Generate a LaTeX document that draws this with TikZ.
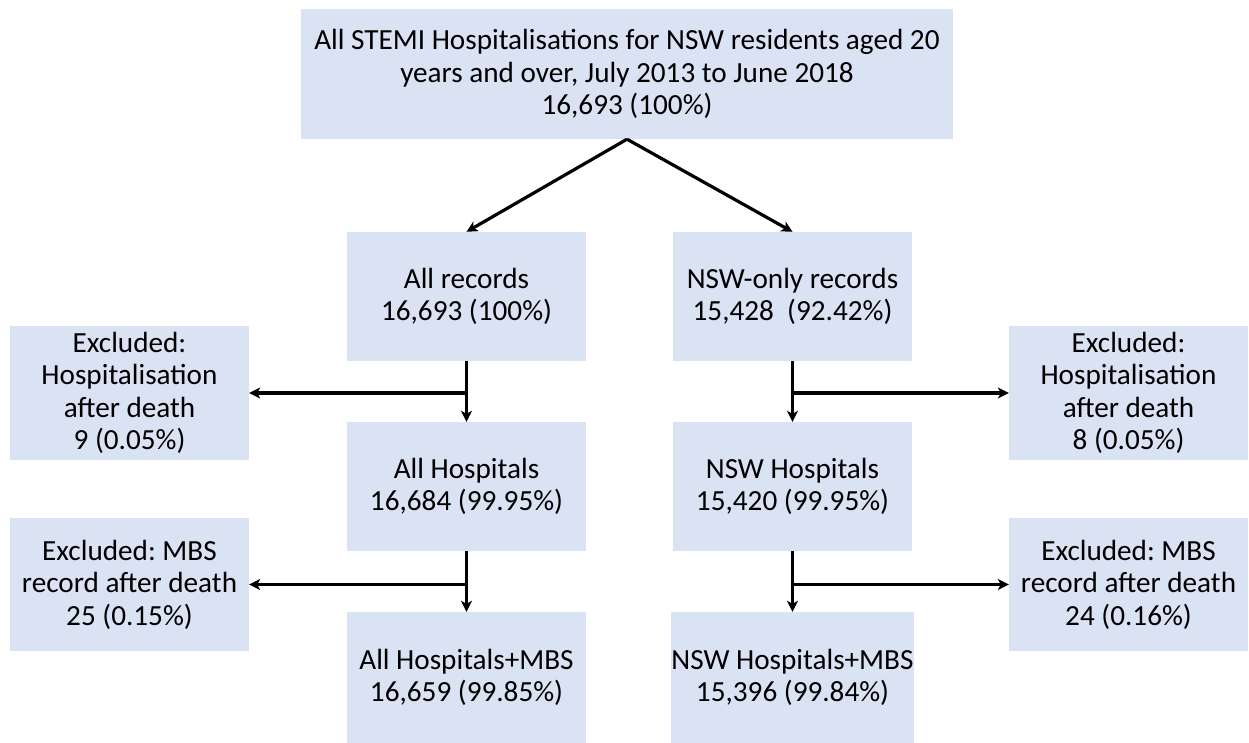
\documentclass[tikz,border=0pt]{standalone}
\usepackage{fontspec}
\setmainfont{Carlito}
\frenchspacing
\usetikzlibrary{arrows.meta}
\definecolor{boxfill}{HTML}{DAE3F3}
\begin{document}
\begin{tikzpicture}[x=1pt,y=-1pt,
  box/.style={fill=boxfill,draw=none,inner sep=0pt,align=center,
    font=\fontsize{29.2}{32.5}\selectfont\frenchspacing,text=black},
  conn/.style={line width=3.2pt,-{Stealth[length=11pt,width=11pt,inset=3pt]}}]
\useasboundingbox (0,0) rectangle (1249,743);
% top
\node[box,minimum width=652pt,minimum height=130pt] (top) at (627,74) {All STEMI Hospitalisations for NSW residents aged 20\\years and over, July 2013 to June 2018\\16,693 (100\%)};
% left column
\node[box,minimum width=239pt,minimum height=129pt] (ar) at (466.5,296.5) {All records\\16,693 (100\%)};
\node[box,minimum width=239pt,minimum height=129pt] (ah) at (466.5,486.5) {All Hospitals\\16,684 (99.95\%)};
\node[box,minimum width=239pt,minimum height=131pt] (am) at (466.5,677.5) {All Hospitals+MBS\\16,659 (99.85\%)};
% right column
\node[box,minimum width=239pt,minimum height=129pt] (nr) at (792.5,296.5) {NSW-only records\\15,428~~(92.42\%)};
\node[box,minimum width=239pt,minimum height=129pt] (nh) at (792.5,486.5) {NSW Hospitals\\15,420 (99.95\%)};
\node[box,minimum width=239pt,minimum height=131pt] (nm) at (792.5,677.5) {NSW Hospitals+MBS\\15,396 (99.84\%)};
% exclusions left
\node[box,minimum width=239pt,minimum height=134pt] (el1) at (129.5,393) {Excluded:\\Hospitalisation\\after death\\9 (0.05\%)};
\node[box,minimum width=239pt,minimum height=133pt] (el2) at (129.5,584.5) {Excluded: MBS\\record after death\\25 (0.15\%)};
% exclusions right
\node[box,minimum width=239pt,minimum height=134pt] (er1) at (1128.5,393) {Excluded:\\Hospitalisation\\after death\\8 (0.05\%)};
\node[box,minimum width=239pt,minimum height=133pt] (er2) at (1128.5,584.5) {Excluded: MBS\\record after death\\24 (0.16\%)};
% branch points
\coordinate (bl1) at (ar.south |- el1.east);
\coordinate (bl2) at (ah.south |- el2.east);
\coordinate (br1) at (nr.south |- er1.west);
\coordinate (br2) at (nh.south |- er2.west);
% connectors
\draw[conn] (top.south) -- (ar.north);
\draw[conn] (top.south) -- (nr.north);
\draw[conn] (ar.south) -- (ah.north);
\draw[conn] (bl1) -- (el1.east);
\draw[conn] (ah.south) -- (am.north);
\draw[conn] (bl2) -- (el2.east);
\draw[conn] (nr.south) -- (nh.north);
\draw[conn] (br1) -- (er1.west);
\draw[conn] (nh.south) -- (nm.north);
\draw[conn] (br2) -- (er2.west);
\end{tikzpicture}
\end{document}
